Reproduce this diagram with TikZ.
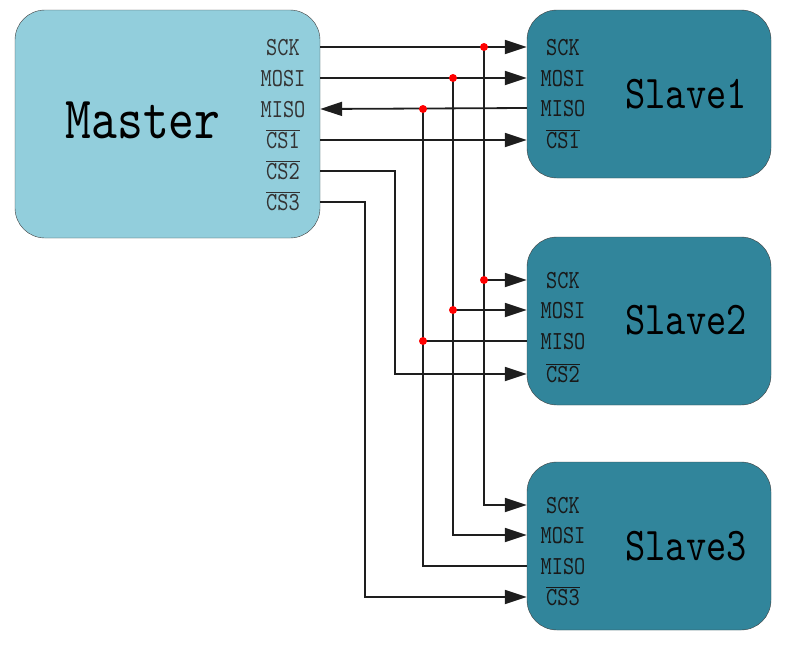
\documentclass[tikz,border=0pt]{standalone}
\usepackage{fontspec}
\setmonofont{lmmono10-regular.otf}[FakeStretch=0.82]
\usepackage{xcolor}
\usetikzlibrary{arrows.meta}

\definecolor{masterfill}{HTML}{92CEDC}
\definecolor{slavefill}{HTML}{31859B}
\definecolor{wirecol}{HTML}{1E1E1E}

\newcommand{\csbar}[1]{\ensuremath{\overline{\mbox{#1}}}}

\begin{document}
\begin{tikzpicture}[
    x=1pt, y=-1pt,
    masterbox/.style={draw=black!75, fill=masterfill, rounded corners=30pt,
      minimum width=305pt, minimum height=228pt, inner sep=0pt},
    slavebox/.style={draw=black!75, fill=slavefill, rounded corners=30pt,
      minimum width=244pt, minimum height=168pt, inner sep=0pt},
    pin/.style={font=\ttfamily\fontsize{26}{26}\selectfont, inner sep=0pt,
      text height=16pt, text depth=0pt},
    mpin/.style={pin, text=black!80},
    spin/.style={pin, text=black!90},
    title/.style={font=\ttfamily\fontsize{#1}{#1}\selectfont, inner sep=0pt},
    wire/.style={draw=wirecol, line width=1.8pt},
    arrow/.style={wire, -{Triangle[length=22pt, width=14pt]}},
    dot/.style={fill=red}
]
  \useasboundingbox (0,0) rectangle (800,646);

  % Boxes
  \node[masterbox] (master) at (167.5,124) {};
  \node[slavebox] (slave1) at (649,94) {};
  \node[slavebox] (slave2) at (649,321) {};
  \node[slavebox] (slave3) at (649,546) {};

  % Titles
  \node[title=60] at (143,120) {Master};
  \node[title=47] at (686,94) {Slave1};
  \node[title=47] at (686,320) {Slave2};
  \node[title=47] at (686,546) {Slave3};

  % Master pins
  \node[mpin] (m-sck) at (283,47) {SCK};
  \node[mpin] (m-mosi) at (283,78) {MOSI};
  \node[mpin] (m-miso) at (283,109) {MISO};
  \node[mpin] (m-cs1) at (283,140) {\csbar{CS1}};
  \node[mpin] (m-cs2) at (283,171) {\csbar{CS2}};
  \node[mpin] (m-cs3) at (283,202) {\csbar{CS3}};

  % Slave pins
  \node[spin] (s1-sck) at (563,47) {SCK};
  \node[spin] (s1-mosi) at (563,78) {MOSI};
  \node[spin] (s1-miso) at (563,108) {MISO};
  \node[spin] (s1-cs) at (563,140) {\csbar{CS1}};

  \node[spin] (s2-sck) at (563,280) {SCK};
  \node[spin] (s2-mosi) at (563,310) {MOSI};
  \node[spin] (s2-miso) at (563,341) {MISO};
  \node[spin] (s2-cs) at (563,374) {\csbar{CS2}};

  \node[spin] (s3-sck) at (563,505) {SCK};
  \node[spin] (s3-mosi) at (563,535) {MOSI};
  \node[spin] (s3-miso) at (563,566) {MISO};
  \node[spin] (s3-cs) at (563,597) {\csbar{CS3}};

  % Bus columns
  \coordinate (bus-sck) at (484,0);
  \coordinate (bus-mosi) at (453,0);
  \coordinate (bus-miso) at (423,0);
  \coordinate (bus-cs2) at (395,0);
  \coordinate (bus-cs3) at (365,0);

  % SCK
  \draw[arrow] (master.east |- m-sck) -- (slave1.west |- s1-sck);
  \draw[arrow] (bus-sck |- m-sck) -- (bus-sck |- s3-sck) -- (slave3.west |- s3-sck);
  \draw[arrow] (bus-sck |- s2-sck) -- (slave2.west |- s2-sck);

  % MOSI
  \draw[arrow] (master.east |- m-mosi) -- (slave1.west |- s1-mosi);
  \draw[arrow] (bus-mosi |- m-mosi) -- (bus-mosi |- s3-mosi) -- (slave3.west |- s3-mosi);
  \draw[arrow] (bus-mosi |- s2-mosi) -- (slave2.west |- s2-mosi);

  % MISO
  \draw[arrow] (slave1.west |- s1-miso) -- (master.east |- m-miso);
  \draw[wire] (slave3.west |- s3-miso) -- (bus-miso |- s3-miso) -- (bus-miso |- m-miso);
  \draw[wire] (slave2.west |- s2-miso) -- (bus-miso |- s2-miso);

  % Chip selects
  \draw[arrow] (master.east |- m-cs1) -- (slave1.west |- s1-cs);
  \draw[arrow] (master.east |- m-cs2) -- (bus-cs2 |- m-cs2) -- (bus-cs2 |- s2-cs) -- (slave2.west |- s2-cs);
  \draw[arrow] (master.east |- m-cs3) -- (bus-cs3 |- m-cs3) -- (bus-cs3 |- s3-cs) -- (slave3.west |- s3-cs);

  % Junctions
  \fill[dot] (bus-sck |- m-sck) circle (4pt);
  \fill[dot] (bus-mosi |- m-mosi) circle (4pt);
  \fill[dot] (bus-miso |- m-miso) circle (4pt);
  \fill[dot] (bus-sck |- s2-sck) circle (4pt);
  \fill[dot] (bus-mosi |- s2-mosi) circle (4pt);
  \fill[dot] (bus-miso |- s2-miso) circle (4pt);
\end{tikzpicture}
\end{document}
